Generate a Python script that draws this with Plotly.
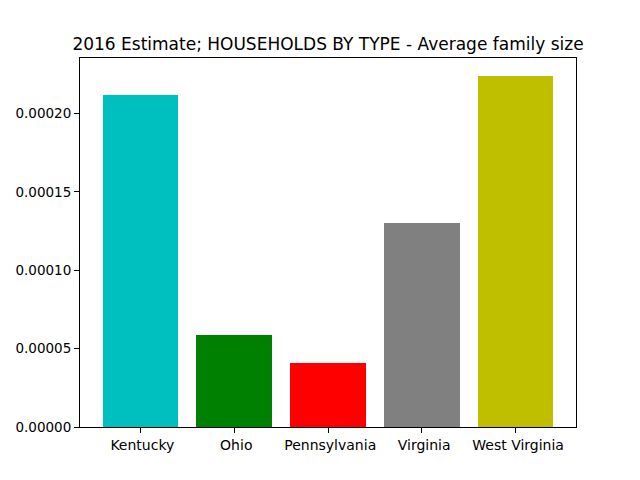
import plotly.graph_objects as go

states = [" Kentucky", " Ohio", " Pennsylvania", " Virginia", " West Virginia"]
values = [0.000212, 0.0000584, 0.0000406, 0.0001302, 0.0002241]
colors = ["#00BFBF", "#008000", "#FF0000", "#808080", "#BFBF00"]
yticks = [0, 0.00005, 0.0001, 0.00015, 0.0002]

fig = go.Figure(go.Bar(x=list(range(len(states))), y=values, marker_color=colors,
                       marker_line_width=0, width=0.8))

fig.update_layout(
    width=640, height=480,
    margin=dict(l=72, r=72, t=50, b=61),
    plot_bgcolor="white", paper_bgcolor="white",
    font=dict(family="DejaVu Sans", size=13.5, color="black"),
    showlegend=False,
    title=dict(text="2016 Estimate; HOUSEHOLDS BY TYPE - Average family size",
               x=0.5, xanchor="center",
               y=1 - 36 / 480, yanchor="middle", yref="container",
               font=dict(size=17, family="DejaVu Sans")),
    bargap=0,
)
fig.update_xaxes(range=[-0.64, 4.64], tickmode="array",
                 tickvals=list(range(len(states))), ticktext=states,
                 showline=True, linecolor="black", linewidth=1, mirror=True,
                 ticks="outside", ticklen=5, tickcolor="black", showgrid=False,
                 zeroline=False, tickfont=dict(size=14), automargin=False)
fig.update_yaxes(range=[0, 0.0002353], tickmode="array", tickvals=yticks,
                 ticktext=[f"{v:.5f}" for v in yticks],
                 showline=True, linecolor="black", linewidth=1, mirror=True,
                 ticks="outside", ticklen=5, tickcolor="black", showgrid=False,
                 zeroline=False, automargin=False)

fig.write_html("out.html")
